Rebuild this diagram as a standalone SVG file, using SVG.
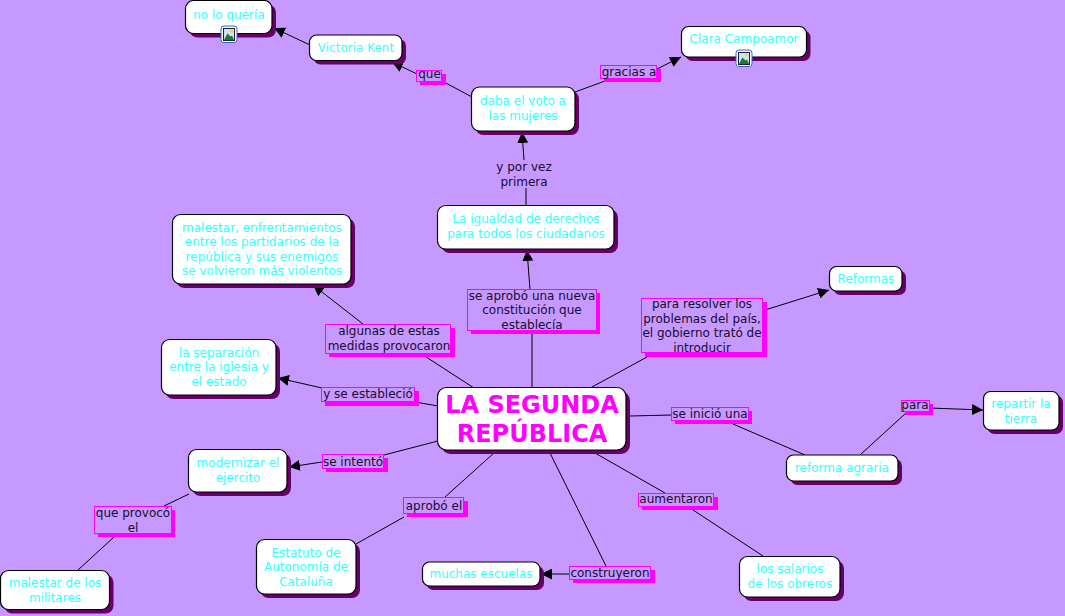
<svg xmlns="http://www.w3.org/2000/svg" width="1065" height="616" viewBox="0 0 1065 616">
<style>
text{font-family:"DejaVu Sans",Verdana,sans-serif;font-size:12px;text-anchor:middle}
.n text{fill:#33ffff}
.l text{fill:#1a0a33}
.n .s{fill:#660066}
.n .b{fill:#fff;stroke:#000;stroke-width:1.2}
.l .s{fill:#ff00ff;shape-rendering:crispEdges}
.l .b{fill:#c599ff;stroke:#ff00ff;stroke-width:1;shape-rendering:crispEdges}
#connectors line{stroke:#000;stroke-width:1}
#connectors line.a{marker-end:url(#ah)}
#n-main text{fill:#ff00ff;font-size:24px;font-weight:bold}
</style>
<defs>
<marker id="ah" markerUnits="userSpaceOnUse" markerWidth="12" markerHeight="11" refX="11" refY="5.5" orient="auto"><path d="M0 0L11 5.5L0 11Z" fill="#000"/></marker>
<g id="ic"><rect x="0.5" y="0.5" width="16" height="16.5" rx="3" fill="#fff" stroke="#3366cc"/><rect x="3" y="3" width="11" height="12" fill="#cfe3f5" stroke="#223"/><path d="M3.5 14.5L7 8L10 11L11.5 10L13.5 14.5Z" fill="#1c7a2c"/><circle cx="11" cy="5.5" r="1.6" fill="#e8d44a"/></g>
</defs>
<rect width="1065" height="616" fill="#c599ff"/>
<g id="connectors">
<line x1="532" y1="388" x2="532" y2="330"/>
<line class="a" x1="530" y1="290" x2="527" y2="250"/>
<line x1="526" y1="205" x2="526" y2="188"/>
<line class="a" x1="524" y1="160" x2="522" y2="132"/>
<line x1="472" y1="97" x2="442" y2="81"/>
<line class="a" x1="417" y1="74" x2="392" y2="62"/>
<line x1="575" y1="92" x2="605" y2="81"/>
<line class="a" x1="655" y1="70" x2="681" y2="57"/>
<line class="a" x1="310" y1="45" x2="274" y2="28"/>
<line x1="474" y1="388" x2="420" y2="353"/>
<line class="a" x1="363" y1="324" x2="313" y2="285"/>
<line x1="438" y1="406" x2="415" y2="402"/>
<line class="a" x1="322" y1="388" x2="278" y2="378"/>
<line x1="438" y1="441" x2="384" y2="455"/>
<line class="a" x1="322" y1="462" x2="289" y2="467"/>
<line x1="189" y1="494" x2="164" y2="506"/>
<line x1="114" y1="537" x2="78" y2="570"/>
<line x1="494" y1="453" x2="445" y2="497"/>
<line x1="404" y1="517" x2="356" y2="544"/>
<line x1="550" y1="453" x2="606" y2="566"/>
<line class="a" x1="569" y1="574" x2="541" y2="574"/>
<line x1="595" y1="453" x2="665" y2="493"/>
<line x1="687" y1="506" x2="763" y2="556"/>
<line x1="630" y1="416" x2="672" y2="415"/>
<line x1="733" y1="424" x2="805" y2="455"/>
<line x1="860" y1="455" x2="906" y2="413"/>
<line class="a" x1="930" y1="408" x2="983" y2="410"/>
<line x1="592" y1="387" x2="647" y2="357"/>
<line class="a" x1="765" y1="310" x2="829" y2="290"/>
</g>
<g id="n-noloqueria" class="n"><rect class="s" x="189.5" y="4.5" width="86.5" height="33" rx="8"/><rect class="b" x="185.5" y="0.5" width="86.5" height="33" rx="8"/><text x="229" y="19">no lo quería</text><use href="#ic" x="220.5" y="25.5"/></g>
<g id="n-victoria" class="n"><rect class="s" x="313.5" y="39" width="92.5" height="25.5" rx="7"/><rect class="b" x="309.5" y="35" width="92.5" height="25.5" rx="7"/><text x="356" y="52">Victoria Kent</text></g>
<g id="n-clara" class="n"><rect class="s" x="685.5" y="30.5" width="125" height="30.5" rx="7"/><rect class="b" x="681.5" y="26.5" width="125" height="30.5" rx="7"/><text x="744" y="43">Clara Campoamor</text><use href="#ic" x="735.5" y="49.5"/></g>
<g id="n-daba" class="n"><rect class="s" x="475.5" y="91" width="103.5" height="44" rx="8"/><rect class="b" x="471.5" y="87" width="103.5" height="44" rx="8"/><text x="523" y="105">daba el voto a</text><text x="523" y="120">las mujeres</text></g>
<g id="n-igualdad" class="n"><rect class="s" x="441.5" y="209.5" width="176.5" height="43.5" rx="8"/><rect class="b" x="437.5" y="205.5" width="176.5" height="43.5" rx="8"/><text x="526" y="223">La igualdad de derechos</text><text x="526" y="238"> para todos los ciudadanos</text></g>
<g id="n-malestar" class="n"><rect class="s" x="176.5" y="218.5" width="178.5" height="69.5" rx="8"/><rect class="b" x="172.5" y="214.5" width="178.5" height="69.5" rx="8"/><text x="262" y="232">malestar, enfrentamientos</text><text x="262" y="246">entre los partidarios de la</text><text x="262" y="261">república y sus enemigos</text><text x="262" y="275">se volvieron más violentos</text></g>
<g id="n-reformas" class="n"><rect class="s" x="833.5" y="270.5" width="72.5" height="24.5" rx="7"/><rect class="b" x="829.5" y="266.5" width="72.5" height="24.5" rx="7"/><text x="866" y="283">Reformas</text></g>
<g id="n-separacion" class="n"><rect class="s" x="165.5" y="343.5" width="114.5" height="55.5" rx="8"/><rect class="b" x="161.5" y="339.5" width="114.5" height="55.5" rx="8"/><text x="219" y="357">la separación</text><text x="219" y="371">entre la iglesia y</text><text x="219" y="386">el estado</text></g>
<g id="n-main" class="n"><rect class="s" x="441.5" y="391.5" width="188.5" height="62.5" rx="9"/><rect class="b" x="437.5" y="387.5" width="188.5" height="62.5" rx="9"/><text x="532" y="413">LA SEGUNDA</text><text x="532" y="442">REPÚBLICA</text></g>
<g id="n-modernizar" class="n"><rect class="s" x="192.5" y="453.5" width="98.5" height="42.5" rx="8"/><rect class="b" x="188.5" y="449.5" width="98.5" height="42.5" rx="8"/><text x="238" y="467">modernizar el</text><text x="238" y="482">ejercito</text></g>
<g id="n-militares" class="n"><rect class="s" x="4.5" y="574.5" width="109" height="39" rx="8"/><rect class="b" x="0.5" y="570.5" width="109" height="39" rx="8"/><text x="55" y="587">malestar de los</text><text x="55" y="602">militares</text></g>
<g id="n-estatuto" class="n"><rect class="s" x="260.5" y="543.5" width="99.5" height="54.5" rx="8"/><rect class="b" x="256.5" y="539.5" width="99.5" height="54.5" rx="8"/><text x="306" y="557">Estatuto de</text><text x="306" y="571">Autonomía de</text><text x="306" y="586">Cataluña</text></g>
<g id="n-escuelas" class="n"><rect class="s" x="426.5" y="566" width="117.5" height="24" rx="7"/><rect class="b" x="422.5" y="562" width="117.5" height="24" rx="7"/><text x="481" y="578">muchas escuelas</text></g>
<g id="n-salarios" class="n"><rect class="s" x="743.5" y="560.5" width="100.5" height="40.5" rx="8"/><rect class="b" x="739.5" y="556.5" width="100.5" height="40.5" rx="8"/><text x="790" y="573">los salarios</text><text x="790" y="588">de los obreros</text></g>
<g id="n-agraria" class="n"><rect class="s" x="790.5" y="459" width="111.5" height="26" rx="7"/><rect class="b" x="786.5" y="455" width="111.5" height="26" rx="7"/><text x="842" y="472">reforma agraria</text></g>
<g id="n-repartir" class="n"><rect class="s" x="987.5" y="395.5" width="75.5" height="38.5" rx="7"/><rect class="b" x="983.5" y="391.5" width="75.5" height="38.5" rx="7"/><text x="1021" y="408">repartir la</text><text x="1021" y="423">tierra</text></g>
<g id="l-que" class="l"><rect class="s" x="420" y="74" width="26" height="11"/><rect class="b" x="416.5" y="70.5" width="25" height="11"/><text x="429.5" y="78">que</text></g>
<g id="l-gracias" class="l"><rect class="s" x="604" y="69" width="57" height="13"/><rect class="b" x="600.5" y="65.5" width="56" height="13"/><text x="629" y="76">gracias a</text></g>
<g id="l-porvez" class="l"><text x="524" y="171">y por vez</text><text x="524" y="186">primera</text></g>
<g id="l-aprobo" class="l"><rect class="s" x="471" y="293" width="129" height="41"/><rect class="b" x="467.5" y="289.5" width="129" height="41"/><text x="532" y="300">se aprobó una nueva</text><text x="532" y="314">constitución que</text><text x="532" y="329">establecía</text></g>
<g id="l-para-resolver" class="l"><rect class="s" x="645" y="302" width="122" height="55"/><rect class="b" x="641.5" y="298.5" width="121" height="54"/><text x="702" y="308">para resolver los</text><text x="702" y="323">problemas del país,</text><text x="702" y="337">el gobierno trató de</text><text x="702" y="352">introducir</text></g>
<g id="l-algunas" class="l"><rect class="s" x="329" y="328" width="126" height="29"/><rect class="b" x="325.5" y="324.5" width="125" height="29"/><text x="389" y="335">algunas de estas</text><text x="389" y="350">medidas provocaron</text></g>
<g id="l-yse" class="l"><rect class="s" x="325" y="391" width="94" height="15"/><rect class="b" x="321.5" y="387.5" width="93" height="14"/><text x="368" y="398">y se estableció</text></g>
<g id="l-intento" class="l"><rect class="s" x="326" y="458" width="62" height="14"/><rect class="b" x="322.5" y="454.5" width="61" height="14"/><text x="353" y="466">se intentó</text></g>
<g id="l-provoco" class="l"><rect class="s" x="98" y="510" width="77" height="27"/><rect class="b" x="94.5" y="506.5" width="77" height="27"/><text x="133" y="517">que provocó</text><text x="133" y="532">el</text></g>
<g id="l-aprobo-el" class="l"><rect class="s" x="407" y="501" width="61" height="16"/><rect class="b" x="403.5" y="497.5" width="60" height="16"/><text x="434" y="510">aprobó el</text></g>
<g id="l-aumentaron" class="l"><rect class="s" x="642" y="497" width="76" height="13"/><rect class="b" x="638.5" y="493.5" width="75" height="13"/><text x="676" y="503">aumentaron</text></g>
<g id="l-construyeron" class="l"><rect class="s" x="573" y="570" width="82" height="13"/><rect class="b" x="569.5" y="566.5" width="81" height="13"/><text x="610" y="577">construyeron</text></g>
<g id="l-inicio" class="l"><rect class="s" x="675" y="411" width="77" height="13"/><rect class="b" x="671.5" y="407.5" width="77" height="13"/><text x="710" y="418">se inició una</text></g>
<g id="l-para" class="l"><rect class="s" x="905" y="404" width="28" height="11"/><rect class="b" x="901.5" y="400.5" width="28" height="11"/><text x="915" y="409">para</text></g>
</svg>
